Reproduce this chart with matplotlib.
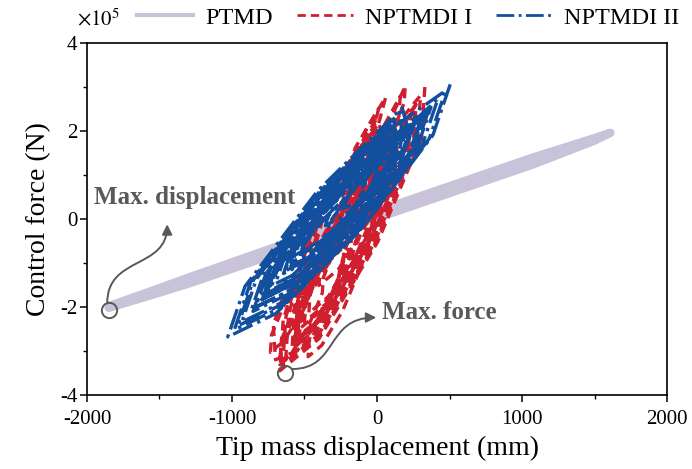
import matplotlib
matplotlib.use('Agg')
import matplotlib.pyplot as plt
from matplotlib.path import Path
from matplotlib.patches import FancyArrowPatch
from matplotlib.lines import Line2D
from matplotlib.ticker import MultipleLocator

plt.rcParams['font.family'] = ['Liberation Serif', 'DejaVu Serif']
plt.rcParams['mathtext.fontset'] = 'stix'
plt.rcParams['axes.unicode_minus'] = False

# ---- data (force in 1e5 N, displacement in mm) ----
# PTMD: narrow hysteresis loop
ptmd_x = [-1850, -1525, -1300, -600, 0, 600, 1077, 1500, 1610,
          1500, 1077, 600, 0, -600, -1300, -1525, -1850]
ptmd_y = [-2.02, -1.70, -1.47, -0.68, 0.02, 0.70, 1.24, 1.78, 1.96,
          1.84, 1.40, 0.86, 0.18, -0.52, -1.33, -1.60, -1.98]

# NPTMDI I (one hysteresis cycle per row)
nptmdi1_x = [330, 307, 5, -400, -670, -647, -430, -5,
             100, 86, -95, -338, -500, -486, -305, -62,
             265, 245, -11, -356, -585, -565, -390, -30,
             -105, -115, -251, -434, -555, -545, -409, -226,
             185, 168, -59, -363, -565, -548, -321, -17,
             300, 278, -9, -394, -650, -628, -420, -20,
             100, 89, -62, -265, -400, -389, -238, -35,
             140, 124, -87, -371, -560, -544, -333, -49,
             -225, -233, -339, -481, -575, -567, -461, -319,
             235, 217, -25, -349, -565, -547, -380, -50,
             15, 2, -164, -387, -535, -522, -356, -133,
             270, 249, -22, -387, -630, -609, -420, -40,
             80, 71, -50, -212, -320, -311, -190, -28,
             95, 80, -116, -380, -555, -540, -344, -80,
             -370, -377, -467, -589, -670, -663, -573, -451,
             225, 208, -19, -323, -525, -508, -360, -50,
             -50, -61, -212, -415, -550, -539, -388, -185,
             130, 116, -65, -308, -470, -456, -275, -32,
             -385, -393, -499, -641, -735, -727, -621, -479,
             160, 151, 30, -132, -240, -231, -150, 10,
             -170, -181, -332, -535, -670, -659, -508, -305,
             -125, -133, -239, -381, -475, -467, -361, -219,
             50, 36, -145, -388, -550, -536, -355, -112,
             195, 187, 81, -61, -155, -147, -80, 60,
             -260, -268, -360, -520, -700, -715, -640, -420]
nptmdi1_y = [3.00, 1.84, -0.52, -2.72, -3.45, -2.30, 0.07, 2.26,
             1.54, 0.84, -0.58, -1.89, -2.34, -1.64, -0.22, 1.09,
             2.59, 1.61, -0.40, -2.27, -2.89, -1.91, 0.10, 1.97,
             0.15, -0.37, -1.43, -2.42, -2.75, -2.23, -1.17, -0.18,
             2.07, 1.20, -0.57, -2.22, -2.77, -1.90, -0.13, 1.52,
             2.81, 1.72, -0.53, -2.61, -3.31, -2.22, 0.03, 2.11,
             1.71, 1.14, -0.05, -1.14, -1.51, -0.94, 0.25, 1.34,
             1.76, 0.95, -0.71, -2.24, -2.76, -1.95, -0.29, 1.24,
             -0.67, -1.07, -1.90, -2.67, -2.93, -2.53, -1.70, -0.93,
             2.38, 1.46, -0.44, -2.19, -2.78, -1.86, 0.04, 1.79,
             0.87, 0.24, -1.06, -2.27, -2.67, -2.04, -0.74, 0.47,
             2.60, 1.56, -0.57, -2.54, -3.20, -2.16, -0.03, 1.94,
             1.69, 1.23, 0.28, -0.60, -0.89, -0.43, 0.52, 1.40,
             1.50, 0.75, -0.79, -2.22, -2.70, -1.95, -0.41, 1.02,
             -1.33, -1.68, -2.39, -3.05, -3.27, -2.92, -2.21, -1.55,
             2.37, 1.50, -0.27, -1.92, -2.47, -1.60, 0.17, 1.82,
             0.41, -0.16, -1.35, -2.44, -2.81, -2.24, -1.05, 0.04,
             1.74, 1.04, -0.38, -1.69, -2.14, -1.44, -0.02, 1.29,
             -0.77, -1.17, -2.00, -2.77, -3.03, -2.63, -1.80, -1.03,
             2.79, 2.33, 1.38, 0.50, 0.21, 0.67, 1.62, 2.50,
             -0.09, -0.66, -1.85, -2.94, -3.31, -2.74, -1.55, -0.46,
             -0.87, -1.27, -2.10, -2.87, -3.13, -2.73, -1.90, -1.13,
             1.14, 0.44, -0.98, -2.29, -2.74, -2.04, -0.62, 0.69,
             3.03, 2.63, 1.80, 1.03, 0.77, 1.17, 2.00, 2.77,
             -1.20, -1.60, -2.30, -2.95, -3.20, -2.40, -1.70, -1.10]

# NPTMDI II (one hysteresis cycle per row)
nptmdi2_x = [505, 386, -112, -698, -1029, -910, -412, 174,
             220, 149, -150, -502, -700, -629, -330, 22,
             372, 271, -152, -651, -932, -831, -408, 91,
             45, -8, -232, -496, -645, -592, -368, -104,
             345, 256, -117, -557, -805, -716, -343, 97,
             474, 361, -112, -669, -984, -871, -398, 159,
             174, 114, -135, -428, -594, -534, -285, 8,
             237, 154, -195, -605, -837, -754, -405, 5,
             8, -33, -207, -413, -528, -487, -313, -107,
             364, 268, -130, -599, -864, -768, -370, 99,
             102, 36, -237, -560, -742, -676, -403, -80,
             420, 313, -135, -662, -960, -853, -405, 122,
             107, 59, -140, -374, -507, -459, -260, -26,
             239, 161, -162, -543, -759, -681, -358, 23,
             -100, -136, -285, -461, -560, -524, -375, -199,
             295, 206, -167, -607, -855, -766, -393, 47,
             134, 74, -175, -468, -634, -574, -325, -32,
             170, 99, -200, -552, -750, -679, -380, -28,
             272, 206, -67, -390, -572, -506, -233, 90,
             -75, -128, -352, -616, -765, -712, -488, -224,
             317, 234, -115, -525, -757, -674, -325, 85,
             257, 209, 10, -224, -357, -309, -110, 124,
             -320, -356, -505, -681, -780, -744, -595, -419,
             130, 59, -240, -592, -790, -719, -420, -68,
             95, 42, -182, -446, -595, -542, -318, -54,
             230, 194, 45, -131, -230, -194, -45, 131]
nptmdi2_y = [3.06, 1.91, -0.25, -2.15, -2.68, -1.53, 0.63, 2.53,
             1.97, 1.28, -0.01, -1.15, -1.47, -0.78, 0.51, 1.65,
             2.54, 1.56, -0.27, -1.89, -2.34, -1.36, 0.47, 2.09,
             1.34, 0.82, -0.15, -1.00, -1.24, -0.72, 0.25, 1.10,
             2.45, 1.59, -0.03, -1.45, -1.85, -0.99, 0.63, 2.05,
             2.92, 1.83, -0.22, -2.02, -2.52, -1.43, 0.62, 2.42,
             1.78, 1.21, 0.13, -0.82, -1.08, -0.51, 0.57, 1.52,
             2.01, 1.20, -0.31, -1.64, -2.01, -1.20, 0.31, 1.64,
             1.20, 0.80, 0.05, -0.62, -0.80, -0.40, 0.35, 1.02,
             2.54, 1.62, -0.10, -1.62, -2.04, -1.12, 0.60, 2.12,
             1.48, 0.84, -0.34, -1.39, -1.68, -1.04, 0.14, 1.19,
             2.73, 1.69, -0.25, -1.95, -2.43, -1.39, 0.55, 2.25,
             1.60, 1.14, 0.27, -0.48, -0.70, -0.24, 0.63, 1.38,
             2.06, 1.31, -0.09, -1.32, -1.66, -0.91, 0.49, 1.72,
             0.71, 0.36, -0.28, -0.85, -1.01, -0.66, -0.02, 0.55,
             2.20, 1.34, -0.28, -1.70, -2.10, -1.24, 0.38, 1.80,
             1.68, 1.11, 0.03, -0.92, -1.18, -0.61, 0.47, 1.42,
             1.77, 1.08, -0.21, -1.35, -1.67, -0.98, 0.31, 1.45,
             2.33, 1.69, 0.51, -0.54, -0.83, -0.19, 0.99, 2.04,
             0.84, 0.32, -0.65, -1.50, -1.74, -1.22, -0.25, 0.60,
             2.36, 1.55, 0.04, -1.29, -1.66, -0.85, 0.66, 1.99,
             2.15, 1.69, 0.82, 0.07, -0.15, 0.31, 1.18, 1.93,
             -0.04, -0.39, -1.03, -1.60, -1.76, -1.41, -0.77, -0.20,
             1.62, 0.93, -0.36, -1.50, -1.82, -1.13, 0.16, 1.30,
             1.59, 1.07, 0.10, -0.75, -0.99, -0.47, 0.50, 1.35,
             1.96, 1.61, 0.97, 0.40, 0.24, 0.59, 1.23, 1.80]

series_labels = ['PTMD', 'NPTMDI I', 'NPTMDI II']

# marked points
max_disp = (-1849, -2.07)
max_force = (-637, -3.49)

c_ptmd = '#c9c3d9'
c_red = '#d01f2e'
c_blue = '#12509f'
c_note = '#595959'
red_ls = (0, (3, 1.8))

fig = plt.figure(figsize=(6.92, 4.69), dpi=100)
ax = fig.add_axes([0.1257, 0.1578, 0.8382, 0.7505])

ax.plot(ptmd_x, ptmd_y, color=c_ptmd, lw=6, solid_joinstyle='round',
        solid_capstyle='round', zorder=1)
ax.plot(nptmdi1_x, nptmdi1_y, color=c_red, lw=2.4, ls=red_ls, zorder=2)
ax.plot(nptmdi2_x, nptmdi2_y, color=c_blue, lw=2.4, ls='-.', zorder=3)

ax.set_xlim(-2000, 2000)
ax.set_ylim(-4, 4)
ax.xaxis.set_major_locator(MultipleLocator(1000))
ax.xaxis.set_minor_locator(MultipleLocator(500))
ax.yaxis.set_major_locator(MultipleLocator(2))
ax.yaxis.set_minor_locator(MultipleLocator(1))
ax.tick_params(which='major', direction='out', length=5, width=1.1,
               labelsize=15, pad=2)
ax.tick_params(axis='x', which='major', pad=6)
ax.tick_params(which='minor', direction='out', length=3, width=1.0)
for s in ax.spines.values():
    s.set_linewidth(1.2)

ax.set_xlabel('Tip mass displacement (mm)', fontsize=20, labelpad=5)
ax.set_ylabel('Control force (N)', fontsize=20, labelpad=6)
fig.text(0.111, 0.958, r'$\times10^5$', fontsize=15, ha='left', va='center')

handles = [Line2D([], [], color=c_ptmd, lw=3),
           Line2D([], [], color=c_red, lw=2, ls=red_ls),
           Line2D([], [], color=c_blue, lw=2, ls='-.')]
fig.legend(handles, series_labels, loc='center', bbox_to_anchor=(0.59, 0.962),
           ncol=3, frameon=False, fontsize=17.5, handlelength=2.3,
           handletextpad=0.5, columnspacing=1.0)

# annotations: circle + wavy arrow
for cx, cy in (max_disp, max_force):
    ax.plot(cx, cy, 'o', ms=11, mfc='none', mec=c_note, mew=1.4, zorder=5)

def wavy_arrow(pts):
    path = Path(pts, [Path.MOVETO, Path.CURVE4, Path.CURVE4, Path.CURVE4])
    ax.add_patch(FancyArrowPatch(path=path, arrowstyle='-|>,head_length=6,head_width=3',
                                 color=c_note, lw=1.4, zorder=5))

wavy_arrow([(-1860, -1.90), (-1860, -0.84), (-1447, -1.14), (-1447, -0.12)])
wavy_arrow([(-586, -3.41), (-265, -3.41), (-357, -2.24), (-5, -2.24)])

ax.text(-1955, 0.5, 'Max. displacement', fontsize=18, fontweight='bold',
        color=c_note, ha='left', va='center')
ax.text(35, -2.12, 'Max. force', fontsize=18, fontweight='bold',
        color=c_note, ha='left', va='center')

fig.savefig('out.png', dpi=100)
